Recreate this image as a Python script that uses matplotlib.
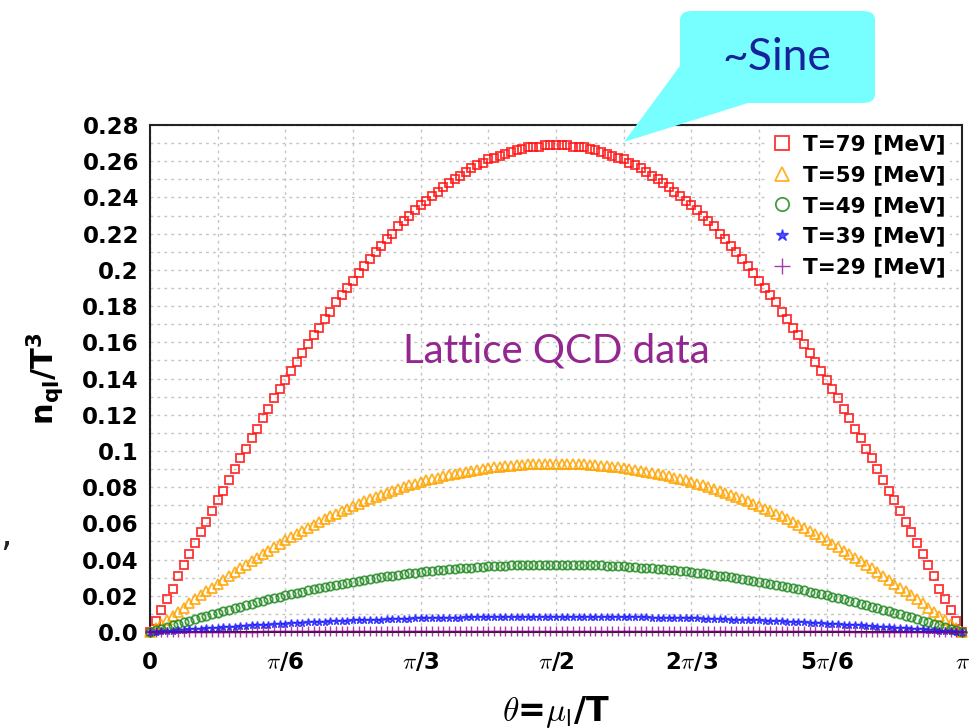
# n_ql/T^3 vs theta = mu_l/T for several temperatures (lattice QCD data)

import numpy as np
import matplotlib
matplotlib.use('Agg')
import matplotlib.pyplot as plt
from matplotlib.patches import FancyBboxPatch, Polygon

plt.rcParams['font.family'] = ['DejaVu Sans']
plt.rcParams['mathtext.fontset'] = 'dejavusans'

# --- data (theta from 0 to pi, evenly spaced) ---
n_T79 = [0.000, 0.006, 0.012, 0.018, 0.024, 0.031, 0.037, 0.043, 0.049, 0.055,
         0.061, 0.067, 0.073, 0.078, 0.084, 0.090, 0.096, 0.101, 0.107, 0.112,
         0.118, 0.123, 0.129, 0.134, 0.139, 0.144, 0.149, 0.154, 0.159, 0.164,
         0.168, 0.173, 0.177, 0.182, 0.186, 0.190, 0.194, 0.198, 0.202, 0.206,
         0.210, 0.213, 0.217, 0.220, 0.224, 0.227, 0.230, 0.233, 0.236, 0.238,
         0.241, 0.243, 0.246, 0.248, 0.250, 0.252, 0.254, 0.256, 0.258, 0.259,
         0.261, 0.262, 0.263, 0.264, 0.265, 0.266, 0.267, 0.268, 0.268, 0.268,
         0.269, 0.269, 0.269,
         0.269, 0.269, 0.268, 0.268, 0.268, 0.267, 0.266, 0.265, 0.264, 0.263, 0.262, 0.261,
         0.259, 0.258, 0.256, 0.254, 0.252, 0.250, 0.248, 0.246, 0.243, 0.241,
         0.238, 0.236, 0.233, 0.230, 0.227, 0.224, 0.220, 0.217, 0.213, 0.210,
         0.206, 0.202, 0.198, 0.194, 0.190, 0.186, 0.182, 0.177, 0.173, 0.168,
         0.164, 0.159, 0.154, 0.149, 0.144, 0.139, 0.134, 0.129, 0.123, 0.118,
         0.112, 0.107, 0.101, 0.096, 0.090, 0.084, 0.078, 0.073, 0.067, 0.061,
         0.055, 0.049, 0.043, 0.037, 0.031, 0.024, 0.018, 0.012, 0.006, 0.000]

n_T59 = [0.0000, 0.0023, 0.0045, 0.0068, 0.0090, 0.0113, 0.0135, 0.0158, 0.0180, 0.0202,
         0.0224, 0.0245, 0.0267, 0.0288, 0.0309, 0.0330, 0.0351, 0.0371, 0.0391, 0.0411,
         0.0431, 0.0450, 0.0469, 0.0487, 0.0506, 0.0523, 0.0541, 0.0558, 0.0575, 0.0591,
         0.0608, 0.0623, 0.0639, 0.0653, 0.0668, 0.0682, 0.0696, 0.0709, 0.0722, 0.0735,
         0.0747, 0.0758, 0.0770, 0.0780, 0.0791, 0.0801, 0.0811, 0.0820, 0.0829, 0.0837,
         0.0845, 0.0853, 0.0860, 0.0867, 0.0874, 0.0880, 0.0886, 0.0891, 0.0896, 0.0901,
         0.0905, 0.0909, 0.0913, 0.0916, 0.0919, 0.0922, 0.0924, 0.0926, 0.0927, 0.0928,
         0.0929, 0.0930, 0.0930,
         0.0930, 0.0929, 0.0928, 0.0927, 0.0926, 0.0924, 0.0922, 0.0919, 0.0916, 0.0913, 0.0909, 0.0905,
         0.0901, 0.0896, 0.0891, 0.0886, 0.0880, 0.0874, 0.0867, 0.0860, 0.0853, 0.0845,
         0.0837, 0.0829, 0.0820, 0.0811, 0.0801, 0.0791, 0.0780, 0.0770, 0.0758, 0.0747,
         0.0735, 0.0722, 0.0709, 0.0696, 0.0682, 0.0668, 0.0653, 0.0639, 0.0623, 0.0608,
         0.0591, 0.0575, 0.0558, 0.0541, 0.0523, 0.0506, 0.0487, 0.0469, 0.0450, 0.0431,
         0.0411, 0.0391, 0.0371, 0.0351, 0.0330, 0.0309, 0.0288, 0.0267, 0.0245, 0.0224,
         0.0202, 0.0180, 0.0158, 0.0135, 0.0113, 0.0090, 0.0068, 0.0045, 0.0023, 0.0000]

n_T49 = [0.0000, 0.0009, 0.0018, 0.0027, 0.0036, 0.0045, 0.0054, 0.0063, 0.0072, 0.0081,
         0.0090, 0.0098, 0.0107, 0.0115, 0.0124, 0.0132, 0.0140, 0.0148, 0.0156, 0.0164,
         0.0172, 0.0180, 0.0188, 0.0195, 0.0202, 0.0209, 0.0216, 0.0223, 0.0230, 0.0236,
         0.0243, 0.0249, 0.0256, 0.0261, 0.0267, 0.0273, 0.0278, 0.0284, 0.0289, 0.0294,
         0.0299, 0.0303, 0.0308, 0.0312, 0.0316, 0.0320, 0.0324, 0.0328, 0.0332, 0.0335,
         0.0338, 0.0341, 0.0344, 0.0347, 0.0350, 0.0352, 0.0354, 0.0356, 0.0358, 0.0360,
         0.0362, 0.0364, 0.0365, 0.0366, 0.0368, 0.0369, 0.0370, 0.0370, 0.0371, 0.0371,
         0.0372, 0.0372, 0.0372,
         0.0372, 0.0372, 0.0371, 0.0371, 0.0370, 0.0370, 0.0369, 0.0368, 0.0366, 0.0365, 0.0364, 0.0362,
         0.0360, 0.0358, 0.0356, 0.0354, 0.0352, 0.0350, 0.0347, 0.0344, 0.0341, 0.0338,
         0.0335, 0.0332, 0.0328, 0.0324, 0.0320, 0.0316, 0.0312, 0.0308, 0.0303, 0.0299,
         0.0294, 0.0289, 0.0284, 0.0278, 0.0273, 0.0267, 0.0261, 0.0256, 0.0249, 0.0243,
         0.0236, 0.0230, 0.0223, 0.0216, 0.0209, 0.0202, 0.0195, 0.0188, 0.0180, 0.0172,
         0.0164, 0.0156, 0.0148, 0.0140, 0.0132, 0.0124, 0.0115, 0.0107, 0.0098, 0.0090,
         0.0081, 0.0072, 0.0063, 0.0054, 0.0045, 0.0036, 0.0027, 0.0018, 0.0009, 0.0000]

n_T39 = [0.0000, 0.0002, 0.0004, 0.0006, 0.0008, 0.0010, 0.0012, 0.0014, 0.0016, 0.0019,
         0.0021, 0.0022, 0.0024, 0.0026, 0.0028, 0.0030, 0.0032, 0.0034, 0.0036, 0.0037,
         0.0039, 0.0041, 0.0043, 0.0045, 0.0046, 0.0048, 0.0049, 0.0051, 0.0053, 0.0054,
         0.0056, 0.0057, 0.0058, 0.0060, 0.0061, 0.0062, 0.0064, 0.0065, 0.0066, 0.0067,
         0.0068, 0.0069, 0.0070, 0.0071, 0.0072, 0.0073, 0.0074, 0.0075, 0.0076, 0.0077,
         0.0077, 0.0078, 0.0079, 0.0079, 0.0080, 0.0080, 0.0081, 0.0081, 0.0082, 0.0082,
         0.0083, 0.0083, 0.0083, 0.0084, 0.0084, 0.0084, 0.0085, 0.0085, 0.0085, 0.0085,
         0.0085, 0.0085, 0.0085,
         0.0085, 0.0085, 0.0085, 0.0085, 0.0085, 0.0085, 0.0084, 0.0084, 0.0084, 0.0083, 0.0083, 0.0083,
         0.0082, 0.0082, 0.0081, 0.0081, 0.0080, 0.0080, 0.0079, 0.0079, 0.0078, 0.0077,
         0.0077, 0.0076, 0.0075, 0.0074, 0.0073, 0.0072, 0.0071, 0.0070, 0.0069, 0.0068,
         0.0067, 0.0066, 0.0065, 0.0064, 0.0062, 0.0061, 0.0060, 0.0058, 0.0057, 0.0056,
         0.0054, 0.0053, 0.0051, 0.0049, 0.0048, 0.0046, 0.0045, 0.0043, 0.0041, 0.0039,
         0.0037, 0.0036, 0.0034, 0.0032, 0.0030, 0.0028, 0.0026, 0.0024, 0.0022, 0.0021,
         0.0019, 0.0016, 0.0014, 0.0012, 0.0010, 0.0008, 0.0006, 0.0004, 0.0002, 0.0000]

n_T29 = [0.0, 0.0, 0.0, 0.0,
         0.0001, 0.0001, 0.0001, 0.0001, 0.0001, 0.0001, 0.0001, 0.0001,
         0.0002, 0.0002, 0.0002, 0.0002, 0.0002, 0.0002, 0.0002, 0.0002,
         0.0003, 0.0003, 0.0003, 0.0003, 0.0003, 0.0003, 0.0003, 0.0003, 0.0003,
         0.0004, 0.0004, 0.0004, 0.0004, 0.0004, 0.0004, 0.0004, 0.0004, 0.0004, 0.0004,
         0.0005, 0.0005, 0.0005, 0.0005, 0.0005, 0.0005, 0.0005, 0.0005, 0.0005, 0.0005,
         0.0005, 0.0005, 0.0005, 0.0005, 0.0005,
         0.0006, 0.0006, 0.0006, 0.0006, 0.0006, 0.0006, 0.0006, 0.0006, 0.0006, 0.0006,
         0.0006, 0.0006, 0.0006, 0.0006, 0.0006, 0.0006, 0.0006, 0.0006, 0.0006,
         0.0006, 0.0006, 0.0006, 0.0006, 0.0006, 0.0006, 0.0006, 0.0006, 0.0006,
         0.0006, 0.0006, 0.0006, 0.0006, 0.0006, 0.0006, 0.0006, 0.0006, 0.0006,
         0.0005, 0.0005, 0.0005, 0.0005, 0.0005, 0.0005, 0.0005, 0.0005, 0.0005, 0.0005,
         0.0005, 0.0005, 0.0005, 0.0005, 0.0005,
         0.0004, 0.0004, 0.0004, 0.0004, 0.0004, 0.0004, 0.0004, 0.0004, 0.0004, 0.0004,
         0.0003, 0.0003, 0.0003, 0.0003, 0.0003, 0.0003, 0.0003, 0.0003, 0.0003,
         0.0002, 0.0002, 0.0002, 0.0002, 0.0002, 0.0002, 0.0002, 0.0002,
         0.0001, 0.0001, 0.0001, 0.0001, 0.0001, 0.0001, 0.0001, 0.0001,
         0.0, 0.0, 0.0, 0.0]

labels = ['T=79 [MeV]', 'T=59 [MeV]', 'T=49 [MeV]', 'T=39 [MeV]', 'T=29 [MeV]']

xticks = [0, np.pi / 6, np.pi / 3, np.pi / 2, 2 * np.pi / 3, 5 * np.pi / 6, np.pi]
xticklabels = ['0', r'$\pi$/6', r'$\pi$/3', r'$\pi$/2', r'2$\pi$/3', r'5$\pi$/6', r'$\pi$']
yticks = [0.0, 0.02, 0.04, 0.06, 0.08, 0.1, 0.12, 0.14, 0.16, 0.18, 0.2, 0.22, 0.24, 0.26, 0.28]
yticklabels = ['0.0', '0.02', '0.04', '0.06', '0.08', '0.1', '0.12', '0.14', '0.16', '0.18',
               '0.2', '0.22', '0.24', '0.26', '0.28']

theta = np.linspace(0, np.pi, len(n_T79))

W, H = 972, 728
fig = plt.figure(figsize=(W / 100, H / 100), dpi=100)
ax = fig.add_axes([150 / W, 96 / H, 812 / W, 507 / H])

# series: values, colour, marker, size
series = [(n_T79, '#ff1010', 's', 6.0),
          (n_T59, '#ffa500', '^', 6.5),
          (n_T49, '#228b22', 'o', 6.0),
          (n_T39, '#1a1aff', '*', 5.5),
          (n_T29, '#800080', '+', 7.5)]

handles = []
for (vals, col, mk, ms), lab in zip(series, labels):
    if mk in ('*', '+'):
        h, = ax.plot(theta, vals, ls='none', marker=mk, ms=ms, color=col,
                     mew=1.0, alpha=0.75, clip_on=False, label=lab, zorder=3)
    else:
        h, = ax.plot(theta, vals, ls='none', marker=mk, ms=ms, mfc='none', mec=col,
                     mew=1.3, alpha=0.85, clip_on=False, label=lab, zorder=3)
    handles.append(h)

ax.set_xlim(0, np.pi)
ax.set_ylim(0, 0.28)
ax.set_xticks(xticks)
ax.set_xticks(np.arange(1, 12, 2) * np.pi / 12, minor=True)
ax.set_yticks(yticks)
ax.set_yticks(np.arange(0.01, 0.28, 0.02), minor=True)
ax.set_xticklabels(xticklabels, fontsize=16.5, fontweight='bold')
ax.set_yticklabels(yticklabels, fontsize=16.5, fontweight='bold')
for lab in ax.get_xticklabels():
    lab.set_math_fontfamily('cm')
ax.tick_params(which='both', length=0)
ax.tick_params(axis='y', pad=8)
ax.tick_params(axis='x', pad=14)

ax.grid(True, which='both', color='#c4c4c4', linestyle=(0, (2, 3)), linewidth=1.0)
ax.set_axisbelow(True)
for sp in ax.spines.values():
    sp.set_linewidth(1.5)
    sp.set_color('#222222')

ax.set_xlabel(r'$\theta$=$\mu_{\mathsf{l}}$/T', fontsize=24, fontweight='bold',
              math_fontfamily='cm', labelpad=14)
ax.set_ylabel(r'$\mathbf{n_{ql}/T^{3}}$', fontsize=22, labelpad=12)

leg = ax.legend(handles=handles, loc='upper right', bbox_to_anchor=(0.985, 0.99),
                prop={'weight': 'bold', 'size': 15.5},
                frameon=True, framealpha=1.0, edgecolor='none', fancybox=False,
                markerscale=1.6, handlelength=0.9, handletextpad=0.5,
                labelspacing=0.5, borderpad=0.2, borderaxespad=0.0)

ax.text(np.pi / 2, 0.155, 'Lattice QCD data', color='#93278f', fontsize=29,
        family='Lato', ha='center', va='center', zorder=4)

# speech bubble "~Sine"
def fx(px):
    return px / W

def fy(py):
    return 1 - py / H

bubble = FancyBboxPatch((fx(680), fy(103)), fx(875) - fx(680), fy(11) - fy(103),
                        boxstyle='round,pad=0,rounding_size=0.012',
                        transform=fig.transFigure, facecolor='#77ffff',
                        edgecolor='none', zorder=5)
fig.patches.append(bubble)
pointer = Polygon([(fx(688), fy(55)), (fx(624), fy(142)), (fx(748), fy(103)), (fx(688), fy(103))],
                  closed=True, transform=fig.transFigure, facecolor='#77ffff',
                  edgecolor='none', zorder=5)
fig.patches.append(pointer)
fig.text(fx(777), fy(58), '~Sine', color='#16239a', fontsize=32, family='Lato',
         ha='center', va='center', zorder=6)

fig.text(fx(0), fy(536), ',', color='#222222', fontsize=26, ha='left', va='center')

fig.savefig('out.png', dpi=100)
